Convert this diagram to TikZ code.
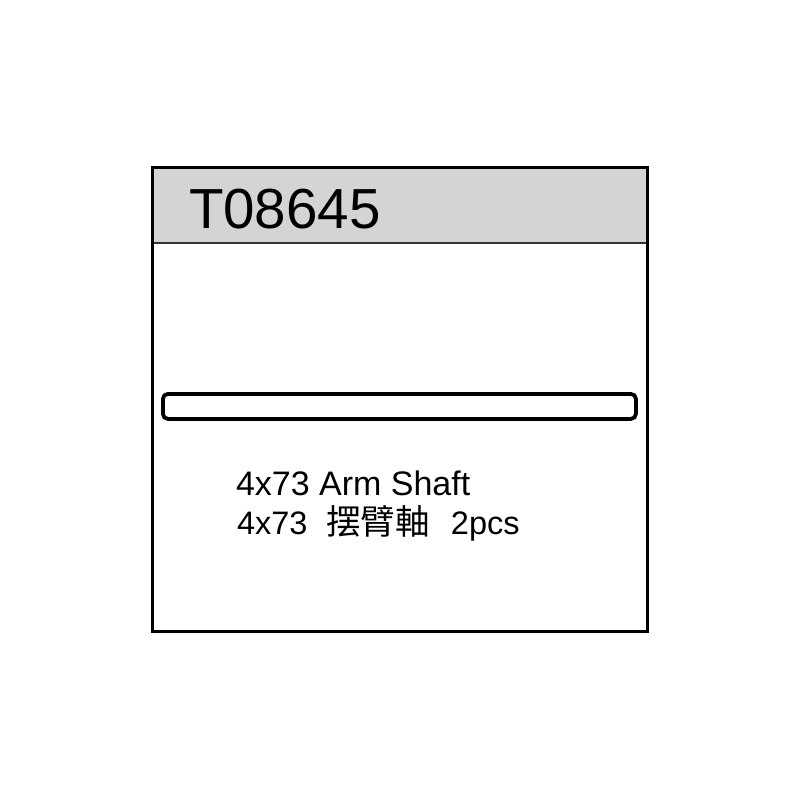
\documentclass[tikz,border=0pt]{standalone}
\usepackage{fontspec}
\setmainfont{Liberation Sans}
\newfontfamily\cjk{Noto Sans CJK SC}
\definecolor{hdr}{HTML}{D4D4D4}
\begin{document}
\begin{tikzpicture}[x=1pt,y=-1pt,
  frame/.style={draw=black,line width=3pt},
  shaftbox/.style={draw=black,line width=3.8pt,rounded corners=5pt},
  lbl/.style={anchor=base west,inner sep=0pt,outer sep=0pt}]
\useasboundingbox (0,0) rectangle (800,800);
\fill[hdr] (152,167) rectangle (647,243);
\draw[line width=1.4pt,draw=black!80] (152,243) -- (647,243);
\draw[frame] (152,167) rectangle (647,631);
\node[lbl,font=\fontsize{56.5}{60}\selectfont] (code) at (189,228) {T08645};
\node[shaftbox,minimum width=473pt,minimum height=25pt,anchor=north west,inner sep=0pt] (shaft) at (161,392) {};
\node[lbl,font=\fontsize{34}{36}\selectfont] (name) at (236,495) {4x73 Arm Shaft};
\node[lbl,font=\fontsize{32.5}{34}\selectfont] (name2) at (237,534) {4x73\hspace{19pt}{\cjk\fontsize{34.5}{36}\selectfont 摆臂軸}\hspace{21pt}2pcs};
\end{tikzpicture}
\end{document}
